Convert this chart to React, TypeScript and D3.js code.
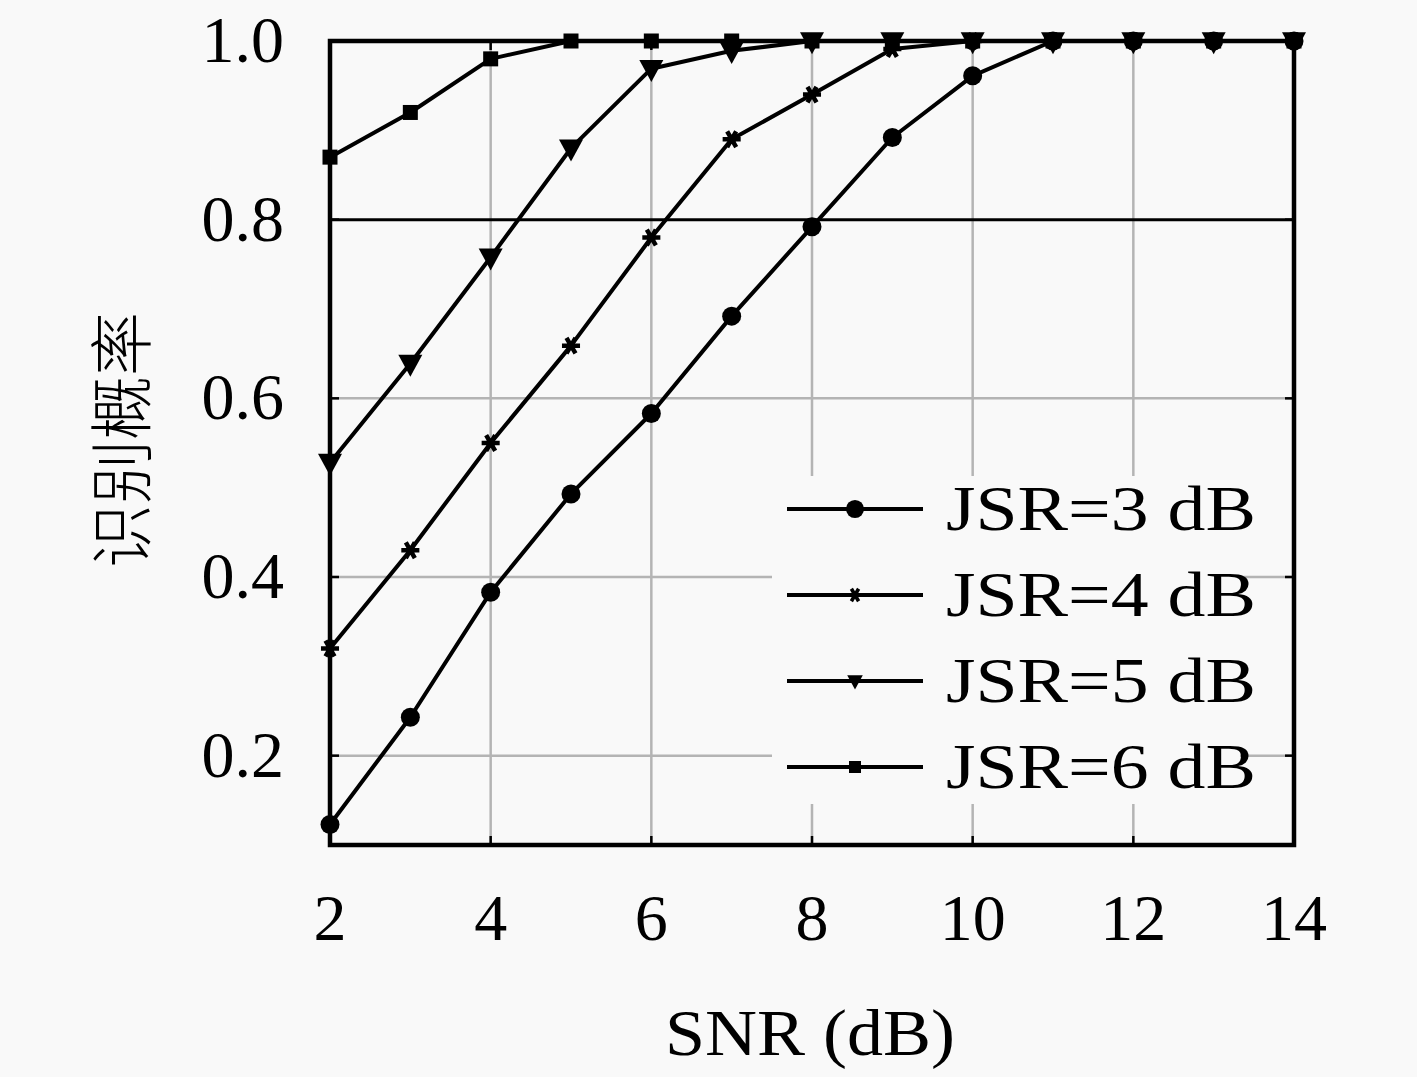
import { useEffect, useRef } from "react";
import * as d3 from "d3";

const snr = [2, 3, 4, 5, 6, 7, 8, 9, 10, 11, 12, 13, 14];
const jsr3 = [0.123, 0.243, 0.383, 0.493, 0.583, 0.692, 0.792, 0.892, 0.961, 1.0, 1.0, 1.0, 1.0];
const jsr4 = [0.32, 0.43, 0.55, 0.659, 0.78, 0.89, 0.94, 0.991, 1.0, 1.0, 1.0, 1.0, 1.0];
const jsr5 = [0.528, 0.639, 0.758, 0.88, 0.969, 0.989, 1.0, 1.0, 1.0, 1.0, 1.0, 1.0, 1.0];
const jsr6 = [0.87, 0.92, 0.98, 1.0, 1.0, 1.0, 1.0, 1.0, 1.0, 1.0, 1.0, 1.0, 1.0];

const seriesNames = ["JSR=3 dB", "JSR=4 dB", "JSR=5 dB", "JSR=6 dB"];
const seriesValues = [jsr3, jsr4, jsr5, jsr6];
const seriesMarkers = ["circle", "asterisk", "triangle", "square"];

const xTicks = [2, 4, 6, 8, 10, 12, 14];
const yTicks = [0.2, 0.4, 0.6, 0.8, 1.0];

const W = 1417;
const H = 1077;
const BG = "#f9f9f9";
const SERIF = "'Liberation Serif', 'Times New Roman', serif";

export default function App() {
  const svgRef = useRef<SVGSVGElement>(null);

  useEffect(() => {
    if (!svgRef.current) return;
    const svg = d3.select(svgRef.current);
    svg.selectAll("*").remove();

    const L = 330, R = 1294, T = 41, B = 845;
    const x = d3.scaleLinear().domain([2, 14]).range([L, R]);
    const y = d3.scaleLinear().domain([0.1, 1.0]).range([B, T]);

    svg.append("rect").attr("width", W).attr("height", H).attr("fill", BG);

    // ── grid ─────────────────────────────────
    const grid = svg.append("g");
    xTicks.slice(1, -1).forEach(t => {
      grid.append("line")
        .attr("x1", x(t)).attr("x2", x(t)).attr("y1", B).attr("y2", T)
        .attr("stroke", "#b4b4b4").attr("stroke-width", 2.5);
    });
    yTicks.slice(0, -1).forEach(t => {
      grid.append("line")
        .attr("x1", L).attr("x2", R).attr("y1", y(t)).attr("y2", y(t))
        .attr("stroke", t === 0.8 ? "#000" : "#b4b4b4").attr("stroke-width", t === 0.8 ? 3 : 2.5);
    });

    // inward ticks
    const tk = 9;
    xTicks.forEach(t => {
      grid.append("line").attr("x1", x(t)).attr("x2", x(t)).attr("y1", B).attr("y2", B - tk)
        .attr("stroke", "#000").attr("stroke-width", 2.5);
      grid.append("line").attr("x1", x(t)).attr("x2", x(t)).attr("y1", T).attr("y2", T + tk)
        .attr("stroke", "#000").attr("stroke-width", 2.5);
    });
    yTicks.forEach(t => {
      grid.append("line").attr("x1", L).attr("x2", L + tk).attr("y1", y(t)).attr("y2", y(t))
        .attr("stroke", "#000").attr("stroke-width", 2.5);
      grid.append("line").attr("x1", R).attr("x2", R - tk).attr("y1", y(t)).attr("y2", y(t))
        .attr("stroke", "#000").attr("stroke-width", 2.5);
    });

    // ── marker helper ────────────────────────
    const drawMarker = (g: any, kind: string, cx: number, cy: number, s: number) => {
      if (kind === "circle") {
        g.append("circle").attr("cx", cx).attr("cy", cy).attr("r", 9.5 * s).attr("fill", "#000");
      } else if (kind === "square") {
        const a = 15 * s;
        g.append("rect").attr("x", cx - a / 2).attr("y", cy - a / 2).attr("width", a).attr("height", a).attr("fill", "#000");
      } else if (kind === "triangle") {
        const w = 24 * s, h = 22 * s;
        g.append("path")
          .attr("d", `M${cx - w / 2},${cy - h * 0.4}L${cx + w / 2},${cy - h * 0.4}L${cx},${cy + h * 0.6}Z`)
          .attr("fill", "#000");
      } else {
        g.append("circle").attr("cx", cx).attr("cy", cy).attr("r", 4.5 * s).attr("fill", "#000");
        g.append("path")
          .attr("transform", `translate(${cx},${cy}) rotate(90)`)
          .attr("d", d3.symbol().type(d3.symbolAsterisk).size(230 * s * s)())
          .attr("fill", "none").attr("stroke", "#000").attr("stroke-width", 4.5 * s);
      }
    };

    // ── series ───────────────────────────────
    const line = d3.line<number>().x((_, i) => x(snr[i])).y(v => y(v));
    const order = [3, 2, 1, 0];
    order.forEach(si => {
      const g = svg.append("g");
      g.append("path").attr("d", line(seriesValues[si]))
        .attr("fill", "none").attr("stroke", "#000").attr("stroke-width", 4)
        .attr("stroke-linejoin", "round");
      seriesValues[si].forEach((v, i) => drawMarker(g, seriesMarkers[si], x(snr[i]), y(v), 1));
    });

    // ── legend ───────────────────────────────
    const lg = svg.append("g");
    lg.append("rect").attr("x", 772).attr("y", 476).attr("width", 468).attr("height", 328).attr("fill", BG);
    const legendScale = [0.95, 0.8, 0.65, 0.8];
    seriesNames.forEach((name, i) => {
      const cy = 509 + i * 86;
      lg.append("line").attr("x1", 787).attr("x2", 923).attr("y1", cy).attr("y2", cy)
        .attr("stroke", "#000").attr("stroke-width", 4);
      drawMarker(lg, seriesMarkers[i], 855, cy, legendScale[i]);
      lg.append("text").attr("x", 946).attr("y", cy + 21)
        .attr("font-family", SERIF).attr("font-size", 64)
        .attr("textLength", 310).attr("lengthAdjust", "spacingAndGlyphs")
        .attr("fill", "#000").text(name);
    });

    // ── frame ────────────────────────────────
    svg.append("rect").attr("x", L).attr("y", T).attr("width", R - L).attr("height", B - T)
      .attr("fill", "none").attr("stroke", "#000").attr("stroke-width", 4.5);

    // ── tick labels ──────────────────────────
    xTicks.forEach(t => {
      svg.append("text").attr("x", x(t)).attr("y", 940)
        .attr("text-anchor", "middle").attr("font-family", SERIF).attr("font-size", 66)
        .attr("fill", "#000").text(String(t));
    });
    yTicks.forEach(t => {
      svg.append("text").attr("x", 284).attr("y", y(t) + 21)
        .attr("text-anchor", "end").attr("font-family", SERIF).attr("font-size", 66)
        .attr("fill", "#000").text(t.toFixed(1));
    });

    // ── axis titles ──────────────────────────
    svg.append("text").attr("x", 810).attr("y", 1055)
      .attr("text-anchor", "middle").attr("font-family", SERIF).attr("font-size", 66)
      .attr("textLength", 290).attr("lengthAdjust", "spacingAndGlyphs")
      .attr("fill", "#000").text("SNR (dB)");
    svg.append("text")
      .attr("transform", "translate(145,440) rotate(-90)")
      .attr("text-anchor", "middle").attr("font-family", "'Noto Sans CJK SC', sans-serif")
      .attr("font-size", 64).attr("font-weight", 300)
      .attr("fill", "#000").text("识别概率");
  }, []);

  return (
    <svg
      ref={svgRef}
      width={W}
      height={H}
      style={{ position: "absolute", left: 0, top: 0, display: "block" }}
    />
  );
}
